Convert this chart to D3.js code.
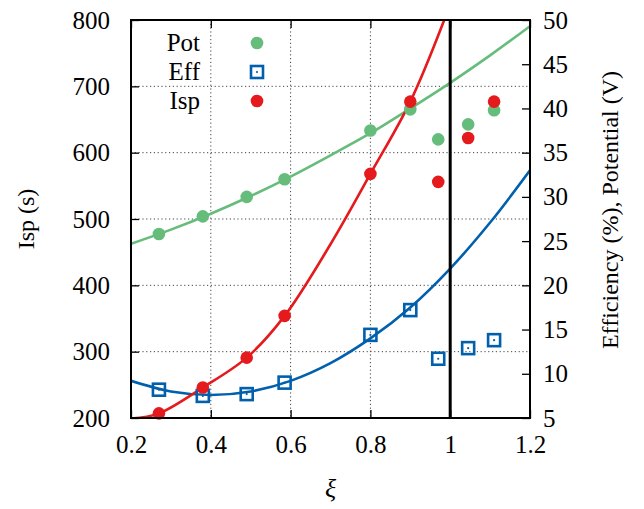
<!DOCTYPE html>
<html>
<head>
<meta charset="utf-8">
<script src="https://cdn.jsdelivr.net/npm/d3@7"></script>
<style>
  body { margin: 0; background: #fff; }
  text { font-family: "Liberation Serif", "DejaVu Serif", serif; fill: #000; }
</style>
</head>
<body>
<svg id="chart" width="644" height="509"></svg>
<script>
// measured points
const xi  = [0.27, 0.38, 0.49, 0.585, 0.80, 0.90, 0.97, 1.045, 1.11];
const isp = [207, 246, 291, 354, 568, 677, 556, 622, 677];
const eff = [8.2, 7.5, 7.7, 9.0, 14.4, 17.2, 11.7, 12.9, 13.8];
const pot = [25.8, 27.8, 30.0, 32.0, 37.5, 39.9, 36.5, 38.2, 39.8];

// fit curves
const ispFitX = [0.2, 0.27, 0.38, 0.49, 0.585, 0.7, 0.8, 0.9, 0.985];
const ispFitY = [199, 207, 246, 291, 354, 462, 568, 677, 800];
const fitX   = [0.2, 0.3, 0.4, 0.5, 0.6, 0.7, 0.8, 0.9, 1.0, 1.1, 1.2];
const effFit = [9.2, 8.0, 7.6, 8.0, 9.2, 11.2, 14.0, 17.5, 21.9, 27.1, 33.0];
const potFit = [24.7, 26.3, 28.1, 30.1, 32.3, 34.7, 37.2, 40.0, 42.9, 46.0, 49.3];

const xTicks  = [0.2, 0.4, 0.6, 0.8, 1.0, 1.2];
const yTicks  = [200, 300, 400, 500, 600, 700, 800];
const y2Ticks = [5, 10, 15, 20, 25, 30, 35, 40, 45, 50];

const green = "#66bd7b", blue = "#0060ad", red = "#e41a1c";

const pLeft = 131, pRight = 530, pTop = 20, pBottom = 418;
const svg = d3.select("#chart");

const x  = d3.scaleLinear().domain([0.2, 1.2]).range([pLeft, pRight]);
const y  = d3.scaleLinear().domain([200, 800]).range([pBottom, pTop]);
const y2 = d3.scaleLinear().domain([5, 50]).range([pBottom, pTop]);

svg.append("defs").append("clipPath").attr("id", "plot")
  .append("rect").attr("x", pLeft).attr("y", pTop)
  .attr("width", pRight - pLeft).attr("height", pBottom - pTop);

// grid
const grid = svg.append("g")
  .attr("stroke", "#444").attr("stroke-width", 1)
  .attr("stroke-dasharray", "1.2,2.6");
grid.selectAll(".gx").data(xTicks.slice(1, -1)).join("line")
  .attr("x1", d => x(d)).attr("x2", d => x(d))
  .attr("y1", pTop).attr("y2", pBottom);
grid.selectAll(".gy").data(yTicks.slice(1, -1)).join("line")
  .attr("x1", pLeft).attr("x2", pRight)
  .attr("y1", d => y(d)).attr("y2", d => y(d));

// axes (ticks point inward)
const fs = "25px";
const gx = svg.append("g").attr("transform", `translate(0,${pBottom})`)
  .call(d3.axisBottom(x).tickValues(xTicks).tickSize(-8).tickPadding(17)
    .tickFormat(d => String(+d.toFixed(1))));
const gxt = svg.append("g").attr("transform", `translate(0,${pTop})`)
  .call(d3.axisTop(x).tickValues(xTicks).tickSize(-8).tickFormat(""));
const gy = svg.append("g").attr("transform", `translate(${pLeft},0)`)
  .call(d3.axisLeft(y).tickValues(yTicks).tickSize(-8).tickPadding(21));
const gy2 = svg.append("g").attr("transform", `translate(${pRight},0)`)
  .call(d3.axisRight(y2).tickValues(y2Ticks).tickSize(-8).tickPadding(13));

[gx, gxt, gy, gy2].forEach(g => {
  g.select(".domain").remove();
  g.selectAll(".tick line").attr("stroke", "#000").attr("stroke-width", 1.3);
  g.selectAll("text").attr("font-size", fs)
    .attr("font-family", "Liberation Serif, DejaVu Serif, serif");
});

// curves
const plot = svg.append("g").attr("clip-path", "url(#plot)");
const line = (ys, scale, xs) => d3.line()
  .x((d, i) => x(xs[i])).y(d => scale(d)).curve(d3.curveCatmullRom.alpha(0.5))(ys);

plot.append("path").attr("d", line(potFit, y2, fitX))
  .attr("fill", "none").attr("stroke", green).attr("stroke-width", 2.6);
plot.append("path").attr("d", line(effFit, y2, fitX))
  .attr("fill", "none").attr("stroke", blue).attr("stroke-width", 2.6);
plot.append("path").attr("d", line(ispFitY, y, ispFitX))
  .attr("fill", "none").attr("stroke", red).attr("stroke-width", 2.6);

// xi = 1 marker line
svg.append("line")
  .attr("x1", x(1)).attr("x2", x(1)).attr("y1", pTop).attr("y2", pBottom)
  .attr("stroke", "#000").attr("stroke-width", 3);

// points
const r = 6.3;
svg.append("g").selectAll("circle").data(pot).join("circle")
  .attr("cx", (d, i) => x(xi[i])).attr("cy", d => y2(d)).attr("r", r)
  .attr("fill", green);

const sq = svg.append("g").selectAll("g").data(eff).join("g")
  .attr("transform", (d, i) => `translate(${x(xi[i])},${y2(d)})`);
sq.append("rect").attr("x", -6).attr("y", -6).attr("width", 12).attr("height", 12)
  .attr("fill", "none").attr("stroke", blue).attr("stroke-width", 2.6);
sq.append("circle").attr("r", 1.1).attr("fill", blue);

svg.append("g").selectAll("circle").data(isp).join("circle")
  .attr("cx", (d, i) => x(xi[i])).attr("cy", d => y(d)).attr("r", r)
  .attr("fill", red);

// frame
svg.append("rect").attr("x", pLeft).attr("y", pTop)
  .attr("width", pRight - pLeft).attr("height", pBottom - pTop)
  .attr("fill", "none").attr("stroke", "#000").attr("stroke-width", 2);

// legend
const legend = [["Pot", "circle", green], ["Eff", "square", blue], ["Isp", "circle", red]];
legend.forEach(([name, shape, col], i) => {
  const ly = 43 + i * 29;
  svg.append("text").attr("x", 200).attr("y", ly).attr("dy", "0.33em")
    .attr("text-anchor", "end").attr("font-size", fs).text(name);
  if (shape === "circle") {
    svg.append("circle").attr("cx", 257).attr("cy", ly).attr("r", r).attr("fill", col);
  } else {
    svg.append("rect").attr("x", 251).attr("y", ly - 6).attr("width", 12).attr("height", 12)
      .attr("fill", "none").attr("stroke", col).attr("stroke-width", 2.6);
    svg.append("circle").attr("cx", 257).attr("cy", ly).attr("r", 1.1).attr("fill", col);
  }
});

// axis titles
svg.append("text").attr("transform", "translate(34,219) rotate(-90)")
  .attr("text-anchor", "middle").attr("font-size", "24px").text("Isp (s)");
svg.append("text").attr("transform", "translate(618,210) rotate(-90)")
  .attr("text-anchor", "middle").attr("font-size", "24px").text("Efficiency (%), Potential (V)");
svg.append("text").attr("x", x(0.7)).attr("y", 497)
  .attr("text-anchor", "middle").attr("font-size", "26px").attr("font-style", "italic").text("ξ");
</script>
</body>
</html>
